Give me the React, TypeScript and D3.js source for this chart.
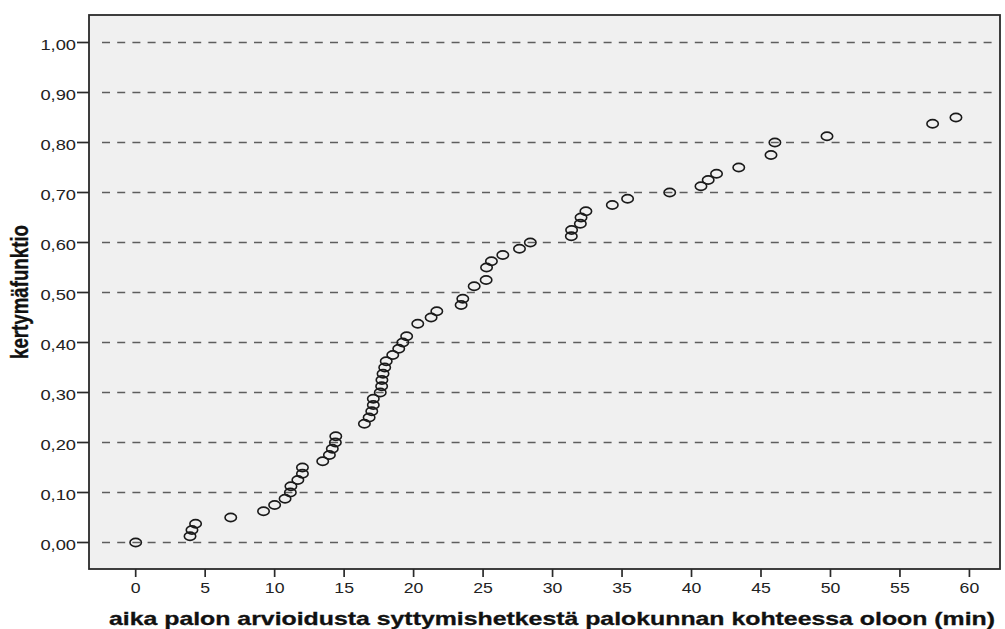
import React from "react";
import * as d3 from "d3";

// Time from estimated ignition to fire brigade arrival on site (minutes)
const minutes: number[] = [
  0, 3.91, 4.05, 4.31, 6.84, 9.2, 10.0, 10.75, 11.13, 11.17, 11.67, 12.0, 12.0,
  13.46, 13.94, 14.15, 14.37, 14.4, 16.46, 16.8, 16.99, 17.1, 17.1, 17.6, 17.7,
  17.72, 17.8, 17.92, 18.03, 18.5, 18.93, 19.22, 19.5, 20.3, 21.26, 21.67,
  23.42, 23.54, 24.36, 25.22, 25.25, 25.6, 26.42, 27.62, 28.4, 31.35, 31.37,
  32.0, 32.05, 32.4, 34.3, 35.4, 38.43, 40.68, 41.2, 41.8, 43.4, 45.72, 46.0,
  49.75, 57.35, 59.03,
];

// Cumulative distribution value for each observation
const cumulative: number[] = [
  0, 0.0125, 0.025, 0.0375, 0.05, 0.0625, 0.075, 0.0875, 0.1, 0.1125, 0.125,
  0.1375, 0.15, 0.1625, 0.175, 0.1875, 0.2, 0.2125, 0.2375, 0.25, 0.2625,
  0.275, 0.2875, 0.3, 0.3125, 0.325, 0.3375, 0.35, 0.3625, 0.375, 0.3875, 0.4,
  0.4125, 0.4375, 0.45, 0.4625, 0.475, 0.4875, 0.5125, 0.525, 0.55, 0.5625,
  0.575, 0.5875, 0.6, 0.6125, 0.625, 0.6375, 0.65, 0.6625, 0.675, 0.6875, 0.7,
  0.7125, 0.725, 0.7375, 0.75, 0.775, 0.8, 0.8125, 0.8375, 0.85,
];

const xTicks: number[] = [0, 5, 10, 15, 20, 25, 30, 35, 40, 45, 50, 55, 60];
const yTicks: number[] = [0, 0.1, 0.2, 0.3, 0.4, 0.5, 0.6, 0.7, 0.8, 0.9, 1.0];

const xTitle = "aika palon arvioidusta syttymishetkestä palokunnan kohteessa oloon (min)";
const yTitle = "kertymäfunktio";

const W = 1005;
const H = 629;
const frame = { left: 89, top: 15, right: 1000, bottom: 569 };

const fiLocale = d3.formatLocale({
  decimal: ",",
  thousands: "\u00a0",
  grouping: [3],
  currency: ["", " €"],
});
const fmtY = fiLocale.format(".2f");

const FONT = "'Liberation Sans', Arial, sans-serif";
const STRETCH = 1.22;

export default function App() {
  const x = d3.scaleLinear().domain([-3.36, 62.2]).range([frame.left, frame.right]);
  const y = d3.scaleLinear().domain([-0.053, 1.055]).range([frame.bottom, frame.top]);

  return (
    <svg
      width={W}
      height={H}
      style={{ position: "absolute", left: 0, top: 0, background: "#fff" }}
    >
      <rect
        x={frame.left}
        y={frame.top}
        width={frame.right - frame.left}
        height={frame.bottom - frame.top}
        fill="#f0f0f0"
      />

      {/* dashed reference lines */}
      {yTicks.map((t) => (
        <line
          key={"g" + t}
          x1={frame.left + 13}
          x2={frame.right - 2}
          y1={y(t)}
          y2={y(t)}
          stroke="#5e5e5e"
          strokeWidth={1.7}
          strokeDasharray="8,7.2"
        />
      ))}

      {/* observations */}
      {minutes.map((m, i) => (
        <ellipse
          key={"p" + i}
          cx={x(m)}
          cy={y(cumulative[i])}
          rx={5.7}
          ry={4.1}
          fill="none"
          stroke="#1a1a1a"
          strokeWidth={1.6}
        />
      ))}

      <rect
        x={frame.left}
        y={frame.top}
        width={frame.right - frame.left}
        height={frame.bottom - frame.top}
        fill="none"
        stroke="#2a2a2a"
        strokeWidth={1.8}
      />

      {/* y axis */}
      {yTicks.map((t) => (
        <g key={"y" + t}>
          <line
            x1={frame.left - 12}
            x2={frame.left}
            y1={y(t)}
            y2={y(t)}
            stroke="#2a2a2a"
            strokeWidth={1.7}
          />
          <text
            transform={`translate(${frame.left - 13},${y(t) + 7.8}) scale(${STRETCH},1)`}
            textAnchor="end"
            fontFamily={FONT}
            fontSize={15}
            fill="#222"
          >
            {fmtY(t)}
          </text>
        </g>
      ))}

      {/* x axis */}
      {xTicks.map((t) => (
        <g key={"x" + t}>
          <line
            x1={x(t)}
            x2={x(t)}
            y1={frame.bottom}
            y2={frame.bottom + 8}
            stroke="#2a2a2a"
            strokeWidth={1.7}
          />
          <text
            transform={`translate(${x(t)},${592.5}) scale(${STRETCH},1)`}
            textAnchor="middle"
            fontFamily={FONT}
            fontSize={14.5}
            fill="#222"
          >
            {t}
          </text>
        </g>
      ))}

      <text
        x={552}
        y={625}
        textAnchor="middle"
        fontFamily={FONT}
        fontWeight="bold"
        fontSize={18.5}
        fill="#111"
        stroke="#111"
        strokeWidth={0.3}
        textLength={886}
        lengthAdjust="spacingAndGlyphs"
      >
        {xTitle}
      </text>

      <text
        transform={`translate(27.5,292) scale(${STRETCH},1) rotate(-90)`}
        textAnchor="middle"
        fontFamily={FONT}
        fontWeight="bold"
        fontSize={19}
        fill="#111"
        stroke="#111"
        strokeWidth={0.3}
        textLength={134}
        lengthAdjust="spacingAndGlyphs"
      >
        {yTitle}
      </text>
    </svg>
  );
}
